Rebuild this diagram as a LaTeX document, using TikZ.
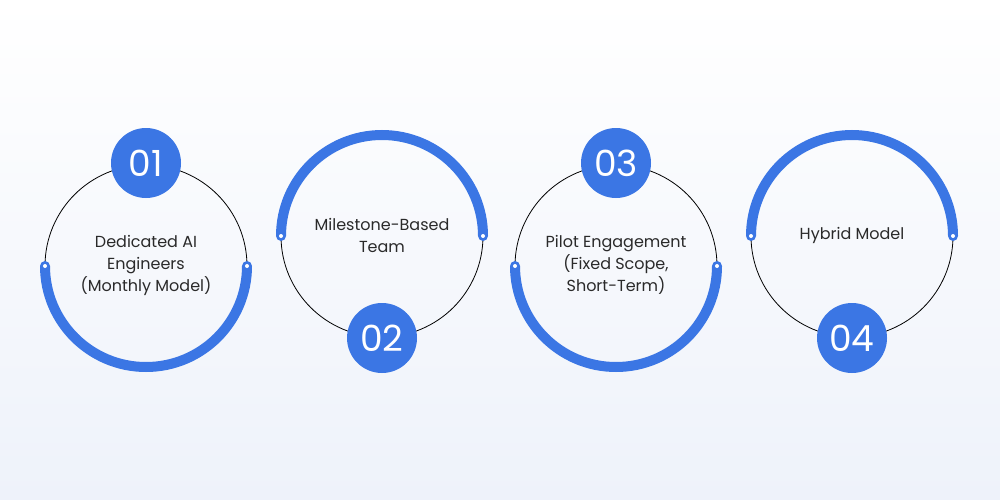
\documentclass[tikz,border=0pt]{standalone}
\usepackage{fontspec}
\setmainfont{Poppins}
\usetikzlibrary{positioning}
\definecolor{mainblue}{HTML}{3B76E4}
\definecolor{textgray}{HTML}{2A2A2A}
\definecolor{bglow}{HTML}{EEF2FA}

\begin{document}
\begin{tikzpicture}[x=1pt,y=-1pt,
		ring/.style={draw=black,line width=0.8pt},
		band/.style={draw=mainblue,line width=10pt,line cap=round},
		badge/.style={circle,fill=mainblue,minimum size=70pt,inner sep=0pt,
			text=white,font=\fontsize{36}{36}\selectfont},
		label/.style={align=center,text=textgray,font=\fontsize{16}{22}\selectfont},
		tip/.style={circle,fill=white,inner sep=0pt,minimum size=4pt}]
		
		\shade[top color=white,bottom color=bglow] (0,0) rectangle (1000,500);
		\useasboundingbox (0,0) rectangle (1000,500);
		
		% lower-band circles
		\foreach \cx/\nm in {146/one,616/three}{
			\draw[ring] (\cx,266) circle (101);
			\draw[band] (\cx-101,266) arc[start angle=180,end angle=0,radius=101];
			\node[tip] (\nm l) at (\cx-101,266) {};
			\node[tip] (\nm r) at (\cx+101,266) {};
		}
		% upper-band circles
		\foreach \cx/\nm in {382/two,852/four}{
			\draw[ring] (\cx,236) circle (101);
			\draw[band] (\cx-101,236) arc[start angle=180,end angle=360,radius=101];
			\node[tip] (\nm l) at (\cx-101,236) {};
			\node[tip] (\nm r) at (\cx+101,236) {};
		}
		
		\node[badge] (b1) at (146,163) {01};
		\node[badge] (b2) at (382,338) {02};
		\node[badge] (b3) at (616,163) {03};
		\node[badge] (b4) at (852,338) {04};
		
		\node[label] (t1) at (146,265) {Dedicated AI\\Engineers\\(Monthly Model)};
		\node[label] (t2) at (382,235) {Milestone-Based\\Team};
		\node[label] (t3) at (616,265) {Pilot Engagement\\(Fixed Scope,\\Short-Term)};
		\node[label] (t4) at (852,235) {Hybrid Model};
\end{tikzpicture}
\end{document}
